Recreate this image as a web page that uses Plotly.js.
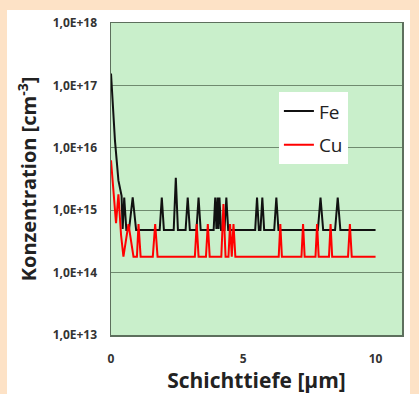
<!DOCTYPE html>
<html><head><meta charset="utf-8">
<script src="https://cdn.plot.ly/plotly-3.0.1.min.js"></script>
<style>
html,body{margin:0;padding:0;background:#fde2c6;width:419px;height:394px;overflow:hidden;}
#chart{position:absolute;left:7px;top:10px;width:403px;height:384px;}
</style></head>
<body><div id="chart"></div>
<script>
// Fe series: depth [µm] and concentration [cm^-3]
const feDepth = [0, 0.08, 0.15, 0.28, 0.40, 0.44, 0.50, 0.58, 0.68, 0.82, 0.95,
  1.84, 1.92, 2.00, 2.37, 2.45, 2.53, 2.82, 2.90, 2.98, 3.23, 3.31, 3.39,
  3.88, 3.94, 3.985, 4.03, 4.065, 4.10, 4.16, 4.29, 4.36, 4.43,
  5.45, 5.52, 5.59, 5.65, 5.72, 5.79, 6.17, 6.25, 6.33,
  7.82, 7.92, 8.02, 8.47, 8.57, 8.67, 10];
const feConc = [1.55e17, 4e16, 1.3e16, 3e15, 1.7e15, 5e14, 1.6e15, 4.8e14, 4.8e14, 1.6e15, 4.8e14,
  4.8e14, 1.6e15, 4.8e14, 4.8e14, 3.3e15, 4.8e14, 4.8e14, 1.6e15, 4.8e14, 4.8e14, 1.6e15, 4.8e14,
  4.8e14, 1.6e15, 5e14, 1.6e15, 5e14, 1.6e15, 4.8e14, 4.8e14, 1.6e15, 4.8e14,
  4.8e14, 1.6e15, 4.8e14, 4.8e14, 1.6e15, 4.8e14, 4.8e14, 1.6e15, 4.8e14,
  4.8e14, 1.6e15, 4.8e14, 4.8e14, 1.6e15, 4.8e14, 4.8e14];
// Cu series
const cuDepth = [0, 0.19, 0.28, 0.38, 0.47, 0.66, 0.85, 0.98, 1.04, 1.12,
  1.58, 1.67, 1.76, 3.17, 3.24, 3.31, 3.59, 3.66, 3.73,
  4.17, 4.25, 4.33, 4.44, 4.50, 4.565, 4.63, 4.70,
  6.34, 6.40, 6.46, 7.20, 7.26, 7.32, 7.73, 7.79, 7.85, 8.24, 8.30, 8.36,
  8.96, 9.03, 9.10, 10];
const cuConc = [6.3e15, 6.2e14, 1.8e15, 4e14, 1.8e14, 6e14, 1.8e14, 1.8e14, 6e14, 1.8e14,
  1.8e14, 6e14, 1.8e14, 1.8e14, 6e14, 1.8e14, 1.8e14, 6e14, 1.8e14,
  1.8e14, 1.25e15, 1.8e14, 1.8e14, 6e14, 1.8e14, 6e14, 1.8e14,
  1.8e14, 6e14, 1.8e14, 1.8e14, 6e14, 1.8e14, 1.8e14, 6e14, 1.8e14, 1.8e14, 6e14, 1.8e14,
  1.8e14, 6e14, 1.8e14, 1.8e14];
const seriesNames = ['Fe', 'Cu'];
const yTickVals = [1e13, 1e14, 1e15, 1e16, 1e17, 1e18];
const yTickText = ['1,0E+13', '1,0E+14', '1,0E+15', '1,0E+16', '1,0E+17', '1,0E+18'];
const xTickVals = [0, 5, 10];
const xTickText = ['0', '5', '10'];

const FONT = 'Open Sans, Lato, sans-serif';
const traces = [
  {x: feDepth, y: feConc, name: seriesNames[0], legendgroup: 'a', mode: 'lines',
   line: {color: '#111111', width: 2}},
  {x: cuDepth, y: cuConc, name: seriesNames[1], legendgroup: 'b', mode: 'lines',
   line: {color: '#ff0000', width: 2}}
];
const layout = {
  width: 403, height: 384,
  margin: {l: 104, r: 8, t: 13, b: 59},
  paper_bgcolor: '#ffffff', plot_bgcolor: '#c9efcb',
  font: {family: FONT, color: '#333333'},
  showlegend: true,
  legend: {x: 0.577, y: 0.778, xanchor: 'left', yanchor: 'top', bgcolor: '#ffffff',
    borderwidth: 0, font: {size: 19, color: '#222', family: FONT}, tracegroupgap: 6},
  xaxis: {range: [0, 11], tickvals: xTickVals, ticktext: xTickText,
    tickfont: {size: 12, family: FONT, color: '#333', weight: 'bold'},
    ticks: 'outside', ticklen: 12, tickcolor: 'rgba(0,0,0,0)',
    showgrid: false, zeroline: false, showline: true, mirror: true,
    linecolor: '#5d6f5d', linewidth: 1.5,
    title: {text: 'Schichttiefe [µm]', font: {size: 21, family: FONT, color: '#222', weight: 'bold'}, standoff: 9}},
  yaxis: {type: 'log', range: [13, 18], tickvals: yTickVals, ticktext: yTickText,
    tickfont: {size: 12, family: FONT, color: '#333', weight: 'bold'},
    ticks: 'outside', ticklen: 10, tickcolor: 'rgba(0,0,0,0)',
    showgrid: true, gridcolor: '#6f8a6f', gridwidth: 1, zeroline: false,
    showline: true, mirror: true, linecolor: '#5d6f5d', linewidth: 1.5,
    title: {text: 'Konzentration [cm<sup>-3</sup>]', font: {size: 20, family: FONT, color: '#222', weight: 'bold'}, standoff: 10}}
};
Plotly.newPlot('chart', traces, layout, {staticPlot: true, displayModeBar: false});
</script></body></html>
